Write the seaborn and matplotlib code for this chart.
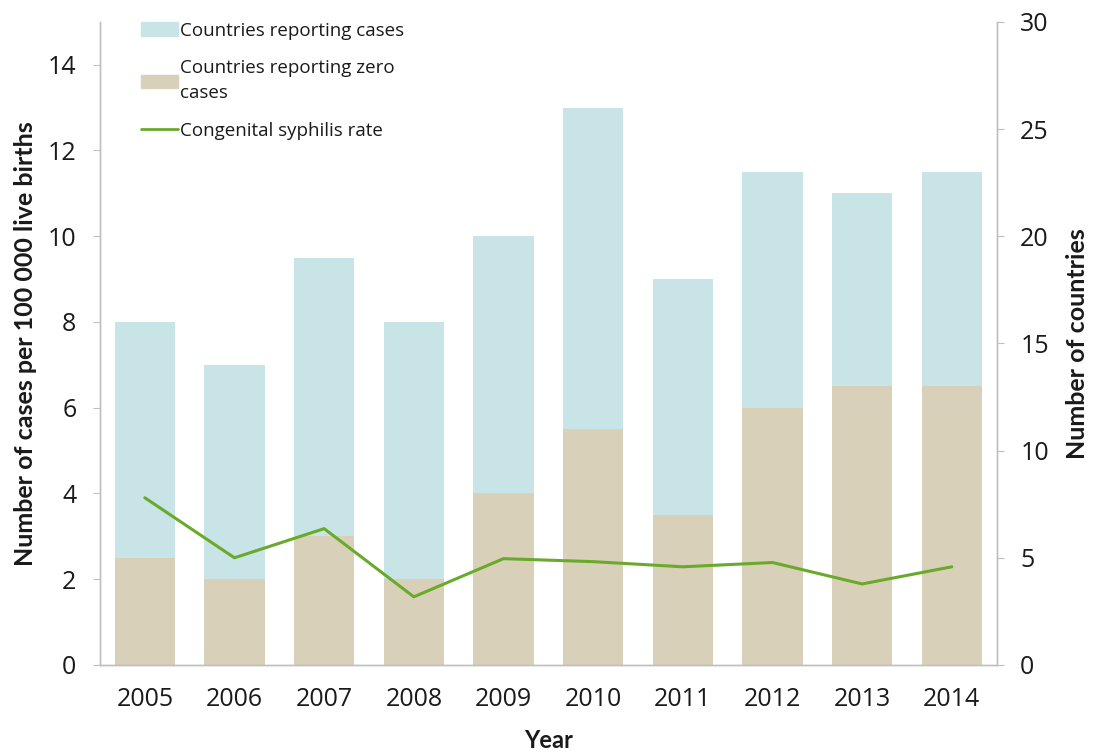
import matplotlib
matplotlib.use("Agg")
import matplotlib.pyplot as plt
import matplotlib.patches as mpatches
import matplotlib.lines as mlines
import numpy as np
import pandas as pd
import seaborn as sns

# Datos
years = ["2005", "2006", "2007", "2008", "2009", "2010", "2011", "2012", "2013", "2014"]
zero_cases = [5, 4, 6, 4, 8, 11, 7, 12, 13, 13]          # países que reportan cero casos
with_cases = [11, 10, 13, 12, 12, 15, 11, 11, 9, 10]     # países que reportan casos
syphilis_rate = [3.9, 2.5, 3.18, 1.59, 2.48, 2.41, 2.29, 2.39, 1.89, 2.29]

df = pd.DataFrame({"Year": years, "Zero": zero_cases, "Cases": with_cases,
                   "Rate": syphilis_rate})
df["Total"] = df["Zero"] + df["Cases"]

c_blue = "#C9E4E6"
c_tan = "#D9D0BA"
c_green = "#6AAA2A"
c_axis = "#BFBFBF"
c_text = "#1A1A1A"

sns.set_style("white")
plt.rcParams["font.family"] = ["Open Sans", "DejaVu Sans"]

fig = plt.figure(figsize=(10.94, 7.52), dpi=100)
ax = fig.add_axes([0.0914, 0.1157, 0.8196, 0.8553])

# barras apiladas (eje derecho: número de países)
sns.barplot(data=df, x="Year", y="Total", order=years, color=c_blue,
            width=0.67, saturation=1, linewidth=0, edgecolor="none", ax=ax)
sns.barplot(data=df, x="Year", y="Zero", order=years, color=c_tan,
            width=0.67, saturation=1, linewidth=0, edgecolor="none", ax=ax)

# línea (eje izquierdo: tasa)
ax2 = ax.twinx()
sns.pointplot(data=df, x="Year", y="Rate", order=years, color=c_green,
              markers="", linewidth=2.2, ax=ax2)

ax.set_ylim(0, 30)
ax.set_yticks(range(0, 31, 5))
ax.yaxis.tick_right()
ax.yaxis.set_label_position("right")
ax.set_ylabel("Number of countries", fontsize=18, fontweight="bold",
              family="Lato", labelpad=12, color=c_text)

ax2.set_ylim(0, 15)
ax2.set_yticks(range(0, 15, 2))
ax2.yaxis.tick_left()
ax2.yaxis.set_label_position("left")
ax2.set_ylabel("Number of cases per 100 000 live births", fontsize=18,
               fontweight="bold", family="Lato", labelpad=8, color=c_text)

ax.set_xlim(-0.5, 9.5)
ax2.set_xlim(-0.5, 9.5)
ax.set_xlabel("Year", fontsize=17, fontweight="bold", family="Lato",
              labelpad=12, color=c_text)
ax2.set_xlabel("")
ax.set_xticks(np.arange(len(years)))
ax.set_xticklabels(years)
ax.set_xticks(np.arange(len(years) + 1) - 0.5, minor=True)
ax.tick_params(axis="x", which="major", length=0, labelsize=18, pad=16, colors=c_text)
ax.tick_params(axis="x", which="minor", length=7, color=c_axis, width=1)
ax.tick_params(axis="y", length=5, color=c_axis, labelsize=18, pad=12,
               labelcolor=c_text)
ax2.tick_params(axis="y", length=5, color=c_axis, labelsize=18, pad=12,
                labelcolor=c_text)

for a in (ax, ax2):
    a.spines["top"].set_visible(False)
    for s in ("left", "right", "bottom"):
        a.spines[s].set_color(c_axis)
        a.spines[s].set_linewidth(1)

handles = [
    mpatches.Patch(color=c_blue, label="Countries reporting cases"),
    mpatches.Patch(color=c_tan, label="Countries reporting zero\ncases"),
    mlines.Line2D([], [], color=c_green, linewidth=2, label="Congenital syphilis rate"),
]
leg = ax2.legend(handles=handles, loc="upper left", bbox_to_anchor=(0.037, 1.012),
                 frameon=False, fontsize=13.5, handlelength=2.0, handleheight=0.7,
                 handletextpad=0.12, labelspacing=1.05, borderaxespad=0)
for t in leg.get_texts():
    t.set_color(c_text)
    t.set_linespacing(1.5)

fig.savefig("out.png", dpi=100)
